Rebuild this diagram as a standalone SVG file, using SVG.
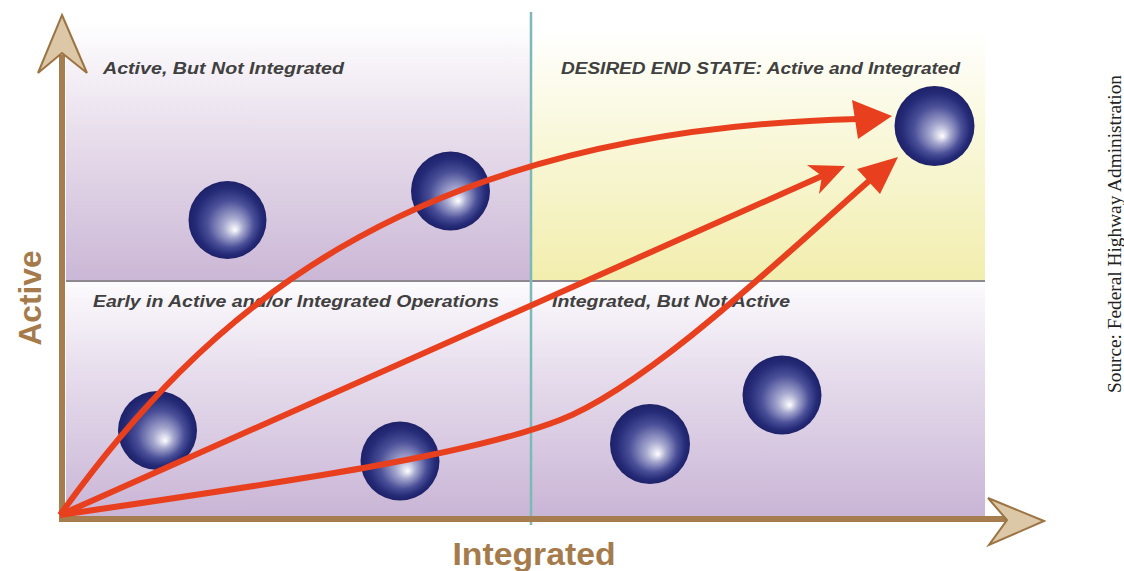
<svg xmlns="http://www.w3.org/2000/svg" width="1124" height="571" viewBox="0 0 1124 571">
<defs>
<linearGradient id="gTL" x1="0" y1="0" x2="0" y2="1">
<stop offset="0" stop-color="#ffffff"/>
<stop offset="0.35" stop-color="#ece4ef"/>
<stop offset="1" stop-color="#cbb7d6"/>
</linearGradient>
<linearGradient id="gTR" x1="0" y1="0" x2="0" y2="1">
<stop offset="0" stop-color="#ffffff"/>
<stop offset="0.4" stop-color="#f9f8dc"/>
<stop offset="1" stop-color="#f2eeae"/>
</linearGradient>
<linearGradient id="gB" x1="0" y1="0" x2="0" y2="1">
<stop offset="0" stop-color="#fcfbfd"/>
<stop offset="0.4" stop-color="#e6dcec"/>
<stop offset="1" stop-color="#c9b5d6"/>
</linearGradient>
<radialGradient id="sph" cx="0.5" cy="0.5" r="0.5" fx="0.6" fy="0.63">
<stop offset="0" stop-color="#ffffff"/>
<stop offset="0.25" stop-color="#a7a9cf"/>
<stop offset="0.6" stop-color="#4a4f98"/>
<stop offset="0.85" stop-color="#262b78"/>
<stop offset="1" stop-color="#1d2168"/>
</radialGradient>
<style>
.q{font-family:"Liberation Sans",Arial,sans-serif;font-weight:bold;font-style:italic;font-size:16px;fill:#404040}
.ax{font-family:"Liberation Sans",Arial,sans-serif;font-weight:bold;font-size:31px;fill:#a57b4c}
.src{font-family:"Liberation Serif","Times New Roman",serif;font-size:19px;fill:#222}
.axis{stroke:#a57d4e;stroke-width:6;fill:none}
.head{fill:#dcc7a6;stroke:#9c7444;stroke-width:2;stroke-linejoin:miter}
.sp{fill:url(#sph)}
.red{stroke:#e8401e;stroke-width:6;fill:none}
.rh{fill:#e8401e}
</style>
</defs>
<rect width="1124" height="571" fill="#ffffff"/>
<g id="quadrants">
<rect x="66" y="22" width="465" height="258" fill="url(#gTL)"/>
<rect x="531" y="30" width="454" height="250" fill="url(#gTR)"/>
<rect x="66" y="282" width="919" height="235" fill="url(#gB)"/>
<line x1="66" y1="281" x2="985" y2="281" stroke="#8d8790" stroke-width="2"/>
<line x1="531" y1="12" x2="531" y2="525" stroke="#7fb8b8" stroke-width="2.5"/>
</g>
<g id="quadrant-labels">
<text class="q" x="103" y="74" textLength="241" lengthAdjust="spacingAndGlyphs">Active, But Not Integrated</text>
<text class="q" x="561" y="74" textLength="399" lengthAdjust="spacingAndGlyphs">DESIRED END STATE: Active and Integrated</text>
<text class="q" x="93" y="307" textLength="406" lengthAdjust="spacingAndGlyphs">Early in Active and/or Integrated Operations</text>
<text class="q" x="552" y="307" textLength="238" lengthAdjust="spacingAndGlyphs">Integrated, But Not Active</text>
</g>
<g id="axes">
<line class="axis" x1="62" y1="521" x2="62" y2="55"/>
<polygon class="head" points="62,15 87,73 62,53 38,73"/>
<line class="axis" x1="59" y1="519" x2="1008" y2="519"/>
<polygon class="head" points="1044,521 988,498 1007,520 989,545"/>
<text class="ax" transform="translate(41,298) rotate(-90)" text-anchor="middle" textLength="95" lengthAdjust="spacingAndGlyphs">Active</text>
<text class="ax" x="534" y="565" text-anchor="middle" textLength="163" lengthAdjust="spacingAndGlyphs">Integrated</text>
</g>
<g id="spheres">
<circle id="s1" class="sp" cx="227.5" cy="220" r="39"/>
<circle id="s2" class="sp" cx="450.5" cy="191" r="39.5"/>
<circle id="s3" class="sp" cx="157.5" cy="430.5" r="39.5"/>
<circle id="s4" class="sp" cx="400" cy="461" r="39.5"/>
<circle id="s5" class="sp" cx="650" cy="444" r="40"/>
<circle id="s6" class="sp" cx="782" cy="395" r="39.5"/>
<circle id="s7" class="sp" cx="934.5" cy="126" r="40"/>
</g>
<g id="connectors">
<path class="red" d="M60,515 C200,320 400,130 858,119"/>
<polygon class="rh" points="892,116 852,100 858,139"/>
<path class="red" d="M60,515 L822,176"/>
<polygon class="rh" points="845,166 807,165 822,176 819,194"/>
<path class="red" d="M60,515 C300,480 470,455 560,420 C650,385 790,250 869,181"/>
<polygon class="rh" points="898,157 857,169 880,194"/>
</g>
<text class="src" transform="translate(1121,234) rotate(-90)" text-anchor="middle" textLength="318" lengthAdjust="spacingAndGlyphs">Source: Federal Highway Administration</text>
</svg>
